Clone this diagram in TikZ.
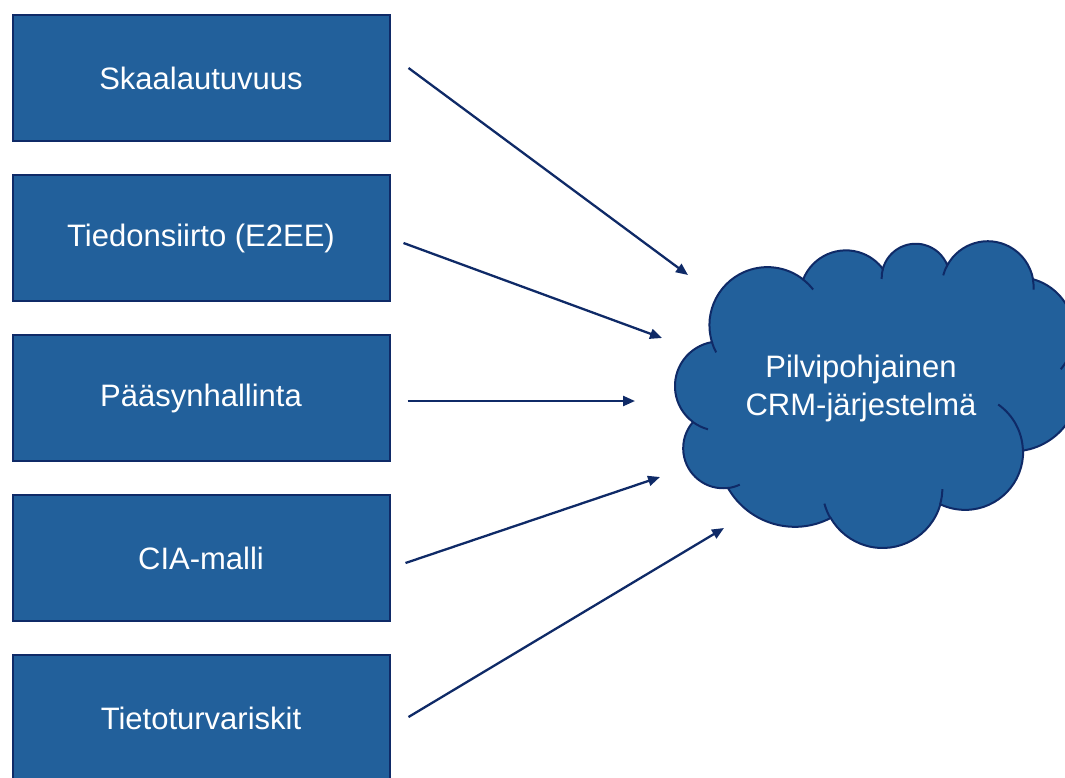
\documentclass[tikz,border=0pt]{standalone}
\usepackage{fontspec}
\setmainfont{Liberation Sans}
\usetikzlibrary{positioning,arrows.meta}

\definecolor{boxblue}{HTML}{22609B}
\definecolor{navy}{HTML}{0F2A67}

\begin{document}
\begin{tikzpicture}[
  x=1pt, y=-1pt,
  font=\fontsize{31pt}{38pt}\selectfont, >={Triangle[length=12pt,width=10pt]},
  node distance=32pt,
  topic/.style={draw=navy, line width=2pt, fill=boxblue, text=white,
                minimum width=377pt, minimum height=126pt},
  link/.style={->, draw=navy, line width=2.3pt},
  puff/.style={draw=navy, line width=2pt},
]
  \useasboundingbox (0,0) rectangle (1065,777);

  % the five topics
  \node[topic] (skaala) at (201,78) {Skaalautuvuus};
  \node[topic, below=of skaala] (tiedon) {Tiedonsiirto (E2EE)};
  \node[topic, below=of tiedon] (paasy) {Pääsynhallinta};
  \node[topic, below=of paasy] (cia) {CIA-malli};
  \node[topic, below=of cia] (riskit) {Tietoturvariskit};

  % cloud, arcs chained clockwise from the lower left
  \filldraw[puff, fill=boxblue] (693,422)
    arc[start angle=233.4, end angle=99.9, radius=44.7pt]
    arc[start angle=197, end angle=52, radius=58pt]
    arc[start angle=158.4, end angle=36.6, radius=46pt]
    arc[start angle=165, end angle=21.5, radius=34pt]
    arc[start angle=151.5, end angle=10, radius=46pt]
    arc[start angle=74.5, end angle=-20, radius=56pt]
    arc[start angle=29.3, end angle=-81, radius=66.5pt]
    arc[start angle=1.3, end angle=-115.3, radius=58pt]
    arc[start angle=-15.8, end angle=-150, radius=60pt]
    arc[start angle=-62.3, end angle=-150.3, radius=77pt]
    arc[start angle=-83.1, end angle=-221.4, radius=40pt]
    -- cycle;
  % inner puff lines
  \draw[puff] (711.9,342.1) arc[start angle=197, end angle=208, radius=58pt];
  \draw[puff] (803.1,279.5) arc[start angle=52, end angle=38, radius=58pt];
  \draw[puff] (882.8,269.0) arc[start angle=165, end angle=182, radius=34pt];
  \draw[puff] (947.2,265.3) arc[start angle=151.5, end angle=165, radius=46pt];
  \draw[puff] (1032.9,279.2) arc[start angle=10, end angle=-3, radius=46pt];
  \draw[puff] (1070.5,352.4) arc[start angle=-20, end angle=-40, radius=56pt];
  \draw[puff] (1022.9,450.7) arc[start angle=1.3, end angle=55, radius=58pt];
  \draw[puff] (940.1,504.4) arc[start angle=-15.8, end angle=-1, radius=60pt];
  \draw[puff] (830.4,518.1) arc[start angle=-150, end angle=-165, radius=60pt];
  \draw[puff] (727.7,488.1) arc[start angle=-83.1, end angle=-65, radius=40pt];
  \draw[puff] (692.9,422.0) arc[start angle=233.4, end angle=255, radius=44.7pt];

  \node[text=white, align=center] (crm) at (861,388)
        {Pilvipohjainen\\CRM-järjestelmä};

  % arrow ends in front of the cloud
  \coordinate (in1) at (688,275);
  \coordinate (in2) at (662,338);
  \coordinate (in3) at (635,401);
  \coordinate (in4) at (660,477);
  \coordinate (in5) at (724,528);

  \draw[link] ([xshift=18pt, yshift=10pt]skaala.east) -- (in1);
  \draw[link] ([xshift=13pt, yshift=-5pt]tiedon.east) -- (in2);
  \draw[link] ([xshift=17pt, yshift=-3pt]paasy.east) -- (in3);
  \draw[link] ([xshift=15pt, yshift=-5pt]cia.east) -- (in4);
  \draw[link] ([xshift=18pt, yshift=1pt]riskit.east) -- (in5);
\end{tikzpicture}
\end{document}
